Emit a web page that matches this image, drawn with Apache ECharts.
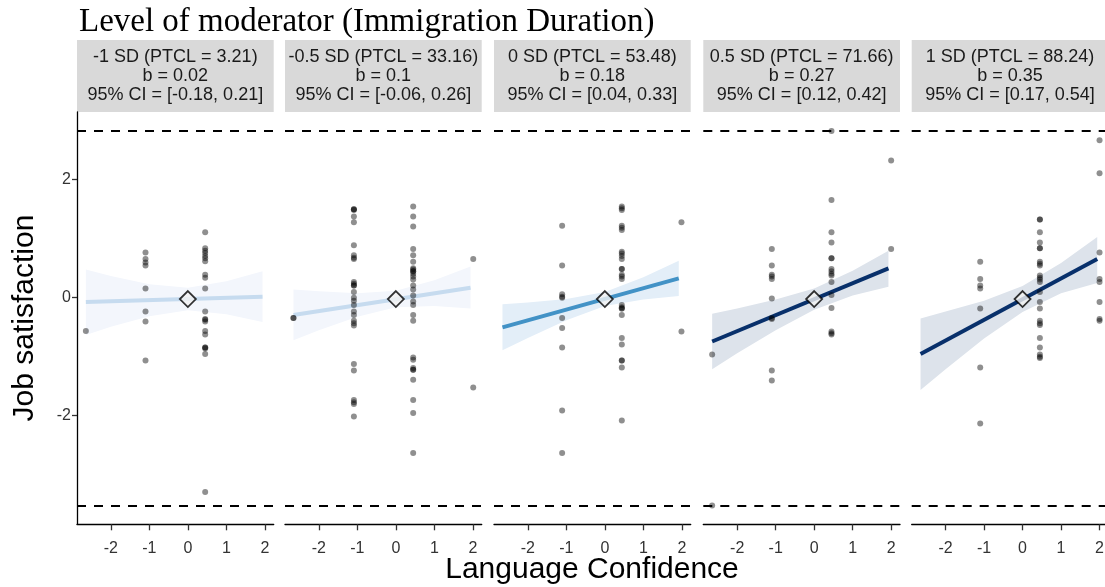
<!DOCTYPE html>
<html><head><meta charset="utf-8">
<script src="https://cdn.jsdelivr.net/npm/echarts@6/dist/echarts.min.js"></script>
<style>html,body{margin:0;padding:0;background:#fff}#c{width:1105px;height:587px}</style>
</head><body><div id="c"></div>
<script>
// ---------- DATA ----------
const stripTop = ['-1 SD (PTCL = 3.21)', '-0.5 SD (PTCL = 33.16)', '0 SD (PTCL = 53.48)', '0.5 SD (PTCL = 71.66)', '1 SD (PTCL = 88.24)'];
const stripB = ['b = 0.02', 'b = 0.1', 'b = 0.18', 'b = 0.27', 'b = 0.35'];
const stripCI = ['95% CI = [-0.18, 0.21]', '95% CI = [-0.06, 0.26]', '95% CI = [0.04, 0.33]', '95% CI = [0.12, 0.42]', '95% CI = [0.17, 0.54]'];
const xTickValues = [-2, -1, 0, 1, 2];
const yTickValues = [-2, 0, 2];
const refLineValues = [2.82, -3.53];
const centroid = [0, -0.03];

const points1 = [
  [-2.65,-0.57],
  [-1.10,0.76],[-1.10,0.65],[-1.10,0.59],[-1.10,0.54],[-1.10,0.15],[-1.10,-0.24],[-1.10,-0.41],[-1.10,-1.07],
  [0.45,1.10],[0.45,0.83],[0.45,0.79],[0.45,0.75],[0.45,0.70],[0.45,0.66],[0.45,0.61],[0.45,0.38],[0.45,0.33],
  [0.45,0.15],[0.45,-0.24],[0.45,-0.37],[0.45,-0.38],[0.45,-0.41],[0.45,-0.57],[0.45,-0.63],[0.45,-0.85],
  [0.45,-0.85],[0.45,-0.87],[0.45,-0.96],[0.45,-3.30]
];
const points2 = [
  [-2.66,-0.35],[-2.66,-0.35],
  [-1.09,1.49],[-1.09,1.49],[-1.09,1.48],[-1.09,1.37],[-1.09,1.27],[-1.09,0.88],[-1.09,0.71],[-1.09,0.67],
  [-1.09,0.65],[-1.09,0.26],[-1.09,0.23],[-1.09,0.20],[-1.09,0.20],[-1.09,0.09],[-1.09,-0.01],[-1.09,-0.06],
  [-1.09,-0.13],[-1.09,-0.24],[-1.09,-0.30],[-1.09,-0.40],[-1.09,-0.44],[-1.09,-0.48],[-1.09,-1.13],
  [-1.09,-1.24],[-1.09,-1.74],[-1.09,-1.78],[-1.09,-1.81],[-1.09,-2.02],
  [0.45,1.54],[0.45,1.37],[0.45,1.20],[0.45,0.82],[0.45,0.71],[0.45,0.60],[0.45,0.49],[0.45,0.47],[0.45,0.44],
  [0.45,0.44],[0.45,0.40],[0.45,0.35],[0.45,0.30],[0.45,0.20],[0.45,0.13],[0.45,0.03],[0.45,-0.07],[0.45,-0.13],
  [0.45,-0.30],[0.45,-0.40],[0.45,-1.02],[0.45,-1.06],[0.45,-1.20],[0.45,-1.23],[0.45,-1.23],[0.45,-1.40],
  [0.45,-1.74],[0.45,-1.96],[0.45,-2.64],
  [2.01,0.65],[2.01,-1.53]
];
const points3 = [
  [-1.11,1.21],[-1.11,0.54],[-1.11,0.05],[-1.11,0.01],[-1.11,-0.01],[-1.11,-0.35],[-1.11,-0.52],[-1.11,-0.85],
  [-1.11,-1.92],[-1.11,-2.64],
  [0.44,1.54],[0.44,1.51],[0.44,1.48],[0.44,1.21],[0.44,1.18],[0.44,1.14],[0.44,0.77],[0.44,0.74],[0.44,0.70],
  [0.44,0.65],[0.44,0.48],[0.44,0.48],[0.44,0.38],[0.44,0.35],[0.44,0.31],[0.44,-0.13],[0.44,-0.17],[0.44,-0.19],
  [0.44,-0.19],[0.44,-0.30],[0.44,-0.69],[0.44,-0.80],[0.44,-1.07],[0.44,-1.07],[0.44,-1.19],[0.44,-2.09],
  [1.99,1.27],[1.99,-0.58]
];
const points4 = [
  [-2.65,-0.97],[-2.65,-3.53],
  [-1.10,0.82],[-1.10,0.54],[-1.10,0.38],[-1.10,0.35],[-1.10,0.31],[-1.10,-0.02],[-1.10,-0.35],[-1.10,-0.37],
  [-1.10,-1.24],[-1.10,-1.41],
  [0.45,2.82],[0.45,1.65],[0.45,1.10],[0.45,0.93],[0.45,0.66],[0.45,0.66],[0.45,0.48],[0.45,0.44],[0.45,0.40],
  [0.45,0.37],[0.45,0.26],[0.45,0.04],[0.45,-0.18],[0.45,-0.58],[0.45,-0.61],[0.45,-0.63],
  [2.00,2.32],[2.00,0.82]
];
const points5 = [
  [-1.10,0.60],[-1.10,0.31],[-1.10,0.20],[-1.10,0.15],[-1.10,-0.19],[-1.10,-1.19],[-1.10,-2.14],
  [0.45,1.32],[0.45,1.32],[0.45,1.10],[0.45,0.93],[0.45,0.83],[0.45,0.83],[0.45,0.60],[0.45,0.57],[0.45,0.54],
  [0.45,0.37],[0.45,0.33],[0.45,0.30],[0.45,0.26],[0.45,0.09],[0.45,-0.08],[0.45,-0.19],[0.45,-0.40],[0.45,-0.44],
  [0.45,-0.47],[0.45,-0.69],[0.45,-0.85],[0.45,-0.97],[0.45,-1.01],[0.45,-1.03],
  [2.00,2.66],[2.00,2.10],[2.00,0.76],[2.00,0.31],[2.00,0.26],[2.00,-0.08],[2.00,-0.37],[2.00,-0.40]
];

const fitLine1 = [[-2.65,-0.08],[1.94,0.01]];
const fitLine2 = [[-2.66,-0.30],[1.94,0.16]];
const fitLine3 = [[-2.66,-0.51],[1.92,0.32]];
const fitLine4 = [[-2.65,-0.75],[1.93,0.49]];
const fitLine5 = [[-2.65,-0.96],[1.94,0.65]];

const bandX1 = [-2.65,-2,-1,0,1,1.94];
const bandLo1 = [-0.64,-0.50,-0.32,-0.22,-0.29,-0.42];
const bandHi1 = [0.47,0.36,0.22,0.16,0.27,0.44];
const bandX2 = [-2.66,-2,-1,0,1,1.94];
const bandLo2 = [-0.73,-0.56,-0.33,-0.17,-0.15,-0.19];
const bandHi2 = [0.13,0.10,0.07,0.11,0.29,0.52];
const bandX3 = [-2.66,-2,-1,0,1,1.92];
const bandLo3 = [-0.90,-0.69,-0.39,-0.15,-0.04,0.02];
const bandHi3 = [-0.12,-0.09,-0.03,0.09,0.34,0.62];
const bandX4 = [-2.65,-2,-1,0,1,1.93];
const bandLo4 = [-1.22,-0.95,-0.56,-0.21,0.03,0.18];
const bandHi4 = [-0.28,-0.19,-0.04,0.15,0.45,0.79];
const bandX5 = [-2.65,-2,-1,0,1,1.94];
const bandLo5 = [-1.57,-1.22,-0.70,-0.25,0.07,0.24];
const bandHi5 = [-0.36,-0.24,-0.06,0.19,0.58,1.02];

// ---------- STYLE / LAYOUT ----------
const panels = [
  {pts: points1, fit: fitLine1, bx: bandX1, lo: bandLo1, hi: bandHi1, line: '#c6dbef', band: '#f3f6fc'},
  {pts: points2, fit: fitLine2, bx: bandX2, lo: bandLo2, hi: bandHi2, line: '#c6dbef', band: '#f3f6fc'},
  {pts: points3, fit: fitLine3, bx: bandX3, lo: bandLo3, hi: bandHi3, line: '#4292c6', band: '#e3eef8'},
  {pts: points4, fit: fitLine4, bx: bandX4, lo: bandLo4, hi: bandHi4, line: '#08306b', band: '#dde3eb'},
  {pts: points5, fit: fitLine5, bx: bandX5, lo: bandLo5, hi: bandHi5, line: '#08306b', band: '#dde3eb'}
];
const panelLeft = [77, 285, 494, 703.3, 911.7];
const panelW = 196.7, panelTop = 112, panelH = 412.3;
const xMin = -2.88, xMax = 2.23, yMin = -3.848, yMax = 3.14;
const SANS = '"Liberation Sans", Arial, Helvetica, sans-serif';

const grids = [], xAxes = [], yAxes = [], series = [], graphics = [];
panels.forEach((p, i) => {
  grids.push({left: panelLeft[i], top: panelTop, width: panelW, height: panelH, outerBoundsMode: 'none'});
  xAxes.push({
    type: 'value', gridIndex: i, min: xMin, max: xMax,
    axisLine: {show: true, onZero: false, lineStyle: {color: '#000', width: 1.3}},
    axisTick: {show: true, length: 6, customValues: xTickValues, lineStyle: {color: '#333', width: 1.3}},
    axisLabel: {show: true, customValues: xTickValues, margin: 16, color: '#333', fontSize: 16, fontFamily: SANS},
    splitLine: {show: false}
  });
  yAxes.push({
    type: 'value', gridIndex: i, min: yMin, max: yMax, show: i === 0,
    axisLine: {show: i === 0, onZero: false, lineStyle: {color: '#000', width: 1.3}},
    axisTick: {show: i === 0, length: 5, customValues: yTickValues, lineStyle: {color: '#333', width: 1.3}},
    axisLabel: {show: i === 0, customValues: yTickValues, margin: 6, color: '#333', fontSize: 16, fontFamily: SANS},
    splitLine: {show: false}
  });
  // confidence band
  series.push({
    type: 'custom', xAxisIndex: i, yAxisIndex: i, z: 1, silent: true, clip: true,
    data: [[p.bx[0], p.lo[0]]],
    renderItem: (params, api) => {
      const pts = [];
      for (let k = 0; k < p.bx.length; k++) pts.push(api.coord([p.bx[k], p.hi[k]]));
      for (let k = p.bx.length - 1; k >= 0; k--) pts.push(api.coord([p.bx[k], p.lo[k]]));
      return {type: 'polygon', shape: {points: pts}, style: {fill: p.band}};
    }
  });
  // fitted line
  series.push({
    type: 'line', xAxisIndex: i, yAxisIndex: i, z: 2, data: p.fit, showSymbol: false, symbol: 'none',
    lineStyle: {color: p.line, width: 4}, silent: true
  });
  // points + dashed reference lines
  series.push({
    type: 'scatter', xAxisIndex: i, yAxisIndex: i, z: 3, data: p.pts, symbolSize: 6,
    itemStyle: {color: 'rgba(0,0,0,0.55)'}, silent: true,
    markLine: {
      symbol: 'none', silent: true, label: {show: false},
      lineStyle: {color: '#000', width: 1.8, type: [9, 8]},
      data: refLineValues.map(v => ({yAxis: v}))
    }
  });
  // centroid diamond
  series.push({
    type: 'scatter', xAxisIndex: i, yAxisIndex: i, z: 4, data: [centroid], symbol: 'diamond', symbolSize: 16,
    itemStyle: {color: '#f2f2f2', borderColor: '#000', borderWidth: 1.8}, silent: true
  });
  // strip
  graphics.push({type: 'rect', shape: {x: panelLeft[i], y: 40, width: panelW, height: 72}, style: {fill: '#d9d9d9'}});
  graphics.push({
    type: 'text', x: panelLeft[i] + panelW / 2, y: 76,
    style: {text: stripTop[i] + '\n' + stripB[i] + '\n' + stripCI[i], fill: '#1a1a1a',
      font: '18px ' + SANS, fontSize: 18, fontFamily: SANS,
      align: 'center', verticalAlign: 'middle', textAlign: 'center', textVerticalAlign: 'middle', lineHeight: 19}
  });
});
graphics.push({
  type: 'text', x: 79, y: 22,
  style: {text: 'Level of moderator (Immigration Duration)', fill: '#000',
    font: '33px "Liberation Serif", "Times New Roman", serif', fontSize: 33, fontFamily: '"Liberation Serif", serif',
    align: 'left', verticalAlign: 'middle', textAlign: 'left', textVerticalAlign: 'middle'}
});
graphics.push({
  type: 'text', x: 25, y: 318, rotation: Math.PI / 2,
  style: {text: 'Job satisfaction', fill: '#000', font: '30px ' + SANS, fontSize: 30, fontFamily: SANS,
    align: 'center', verticalAlign: 'middle', textAlign: 'center', textVerticalAlign: 'middle'}
});
graphics.push({
  type: 'text', x: 592, y: 570,
  style: {text: 'Language Confidence', fill: '#000', font: '30px ' + SANS, fontSize: 30, fontFamily: SANS,
    align: 'center', verticalAlign: 'middle', textAlign: 'center', textVerticalAlign: 'middle'}
});

const chart = echarts.init(document.getElementById('c'), null, {renderer: 'canvas'});
chart.setOption({
  animation: false,
  backgroundColor: '#fff',
  grid: grids, xAxis: xAxes, yAxis: yAxes, series: series, graphic: graphics
});
</script>
</body></html>
